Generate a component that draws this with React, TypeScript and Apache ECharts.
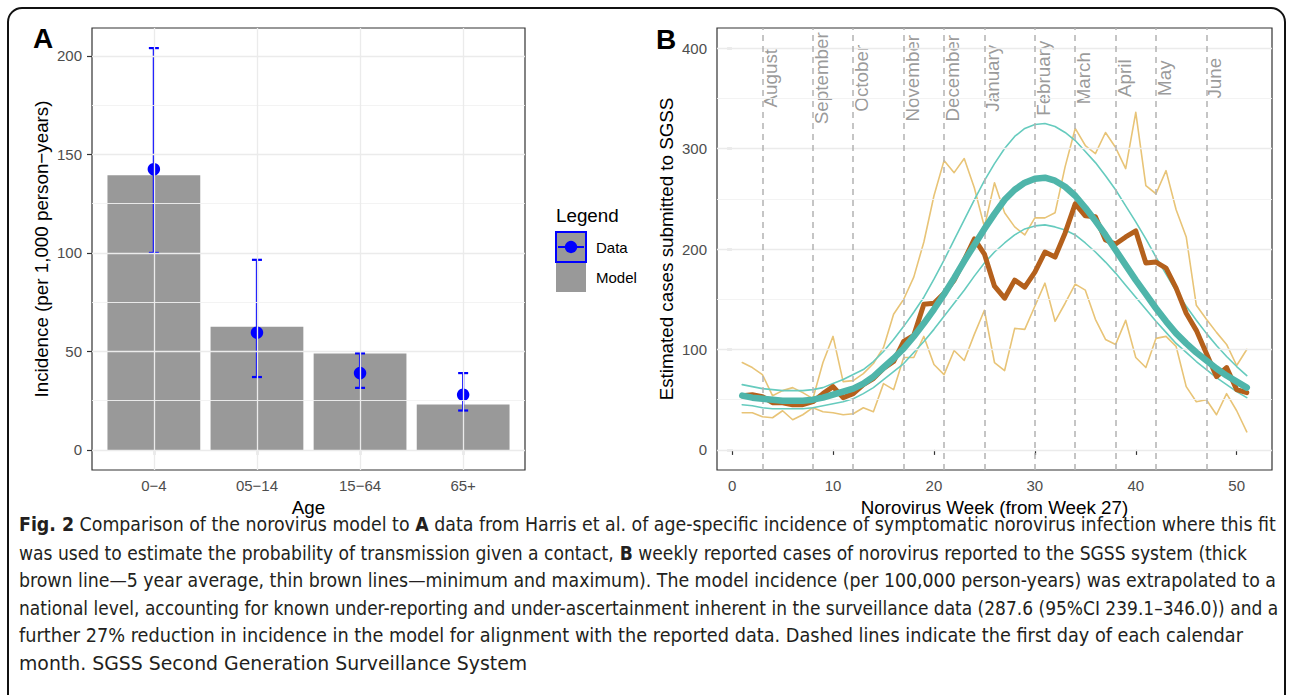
import React, { useEffect, useRef } from 'react';
import * as echarts from 'echarts';

// ---------- Panel A data ----------
const ageGroups = ['0\u22124', '05\u221214', '15\u221264', '65+'];
const modelIncidence = [139.5, 62.5, 49, 23];
const dataIncidence = [142.5, 59.5, 39, 28];
const dataLower = [100, 37, 31.5, 20];
const dataUpper = [204, 96.5, 49, 39];
const yTicksA = [0, 50, 100, 150, 200];
const yMinorA = [25, 75, 125, 175];

// ---------- Panel B data ----------
const weeks = Array.from({ length: 51 }, (_, i) => i + 1);
const avgCases = [54, 55, 53, 47, 47, 45, 45, 48, 56, 63,
  52, 56, 65, 71, 81, 88, 108, 114, 145, 146,
  156, 169, 189, 210, 195, 163, 151, 169, 162, 177,
  197, 192, 216, 245, 233, 232, 209, 205, 212, 218,
  186, 187, 181, 161, 136, 119, 96, 73, 82, 60, 57];
const minCases = [37, 37, 33, 32, 39, 30, 35, 42, 38, 37,
  35, 36, 42, 38, 66, 60, 92, 92, 113, 85,
  75, 99, 89, 115, 139, 87, 79, 121, 120, 143,
  166, 128, 146, 165, 159, 130, 110, 105, 129, 92,
  82, 111, 113, 103, 63, 48, 50, 35, 56, 39, 18];
const maxCases = [87, 82, 75, 54, 59, 62, 57, 51, 87, 113,
  68, 69, 76, 86, 102, 135, 150, 172, 207, 253,
  288, 276, 290, 261, 222, 266, 236, 222, 214, 231,
  231, 236, 282, 320, 303, 295, 316, 301, 280, 336,
  263, 255, 278, 239, 212, 144, 130, 117, 105, 84, 100];
const modelMean = [54, 52, 51, 50, 49, 49, 49, 50, 52, 55,
  58, 61, 66, 73, 82, 91, 101, 113, 126, 140,
  155, 171, 188, 204, 220, 235, 249, 259, 266, 270,
  271, 268, 262, 253, 241, 228, 214, 199, 184, 169,
  155, 141, 128, 116, 106, 97, 89, 81, 74, 68, 62];
const modelUpper = [65, 63, 61, 60, 59, 59, 59, 60, 62, 66,
  70, 75, 80, 88, 98, 110, 123, 137, 152, 170,
  189, 209, 229, 249, 268, 285, 300, 312, 320, 324,
  325, 322, 316, 308, 297, 286, 273, 259, 243, 227,
  210, 192, 175, 158, 143, 129, 116, 104, 93, 83, 74];
const modelLower = [45, 44, 42, 41, 41, 41, 41, 42, 44, 46,
  48, 51, 56, 62, 70, 78, 86, 97, 108, 120,
  133, 146, 159, 173, 186, 197, 206, 214, 220, 223,
  224, 222, 219, 214, 206, 197, 187, 176, 164, 152,
  140, 128, 117, 106, 97, 88, 80, 72, 65, 58, 52];
const months = ['August', 'September', 'October', 'November', 'December', 'January',
  'February', 'March', 'April', 'May', 'June'];
const monthWeeks = [3, 8, 12, 17, 21, 25, 30, 34, 38, 42, 47];
const monthLabelY = 370;
const xTicksB = [0, 10, 20, 30, 40, 50];
const yTicksB = [0, 100, 200, 300, 400];
const yMinorB = [50, 150, 250, 350];

// ---------- Caption ----------
type Seg = { t: string; b?: boolean };
const captionLines: Seg[][] = [
  [{ t: 'Fig. 2', b: true }, { t: ' Comparison of the norovirus model to ' }, { t: 'A', b: true },
    { t: ' data from Harris et al. of age-specific incidence of symptomatic norovirus infection where this fit' }],
  [{ t: 'was used to estimate the probability of transmission given a contact, ' }, { t: 'B', b: true },
    { t: ' weekly reported cases of norovirus reported to the SGSS system (thick' }],
  [{ t: 'brown line\u20145 year average, thin brown lines\u2014minimum and maximum). The model incidence (per 100,000 person-years) was extrapolated to a' }],
  [{ t: 'national level, accounting for known under-reporting and under-ascertainment inherent in the surveillance data (287.6 (95%CI 239.1\u2013346.0)) and a' }],
  [{ t: 'further 27% reduction in incidence in the model for alignment with the reported data. Dashed lines indicate the first day of each calendar' }],
  [{ t: 'month. SGSS Second Generation Surveillance System' }],
];
const captionWidths = [1258, 1229, 1258, 1260, 1225, 508];

const FONT = '"Liberation Sans", Arial, Helvetica, sans-serif';
const CAP_FONT = '"Liberation Sans Narrow", "DejaVu Sans Condensed", "Liberation Sans", sans-serif';
const TICK = '#4D4D4D';
const BROWN = '#B4601C';
const TAN = '#E8C477';
const TEAL = '#4FB5AA';
const TEAL_THIN = '#66CBBE';

export default function App() {
  const ref = useRef<HTMLDivElement>(null);
  useEffect(() => {
    if (!ref.current) return;
    const chart = echarts.init(ref.current, null, { renderer: 'svg' });

    // caption measurement
    const capSize = 19;
    const ctx = document.createElement('canvas').getContext('2d')!;
    const measure = (segs: Seg[]) => segs.reduce((acc, s) => {
      ctx.font = `${s.b ? 'bold ' : ''}${capSize}px ${CAP_FONT}`;
      return acc + ctx.measureText(s.t).width;
    }, 0);
    const capTexts = captionLines.map((segs, i) => ({
      type: 'text', x: 19, y: 525 + i * 27.6, scaleX: captionWidths[i] / measure(segs), silent: true,
      style: {
        text: segs.map(s => `{${s.b ? 'b' : 'n'}|${s.t}}`).join(''),
        verticalAlign: 'middle', align: 'left',
        rich: {
          n: { fontSize: capSize, fontFamily: CAP_FONT, fill: '#231F20' },
          b: { fontSize: capSize, fontFamily: CAP_FONT, fontWeight: 'bold', fill: '#231F20' },
        },
      },
    }));

    const majorStyle = { color: '#EBEBEB', width: 1.3, type: 'solid' };
    const minorStyle = { color: '#F2F2F2', width: 0.9, type: 'solid' };
    const mlBase = {
      silent: true, symbol: 'none', label: { show: false }, animation: false,
      emphasis: { disabled: true }, lineStyle: { type: 'solid' },
    };

    const lineSeries = (data: number[], color: string, width: number, z: number) => ({
      type: 'line', xAxisIndex: 1, yAxisIndex: 1, z, silent: true,
      symbol: 'none', data: weeks.map((w, i) => [w, data[i]]),
      lineStyle: { color, width, join: 'round', cap: 'round' },
      emphasis: { disabled: true },
    });

    const axisTick = (vals: number[]) => ({
      show: true, customValues: vals, length: 5, lineStyle: { color: '#333333', width: 1.2 },
    });

    chart.setOption({
      animation: false,
      backgroundColor: '#ffffff',
      grid: [
        { left: 92, top: 28, width: 433, height: 442, show: true, borderColor: '#333333', borderWidth: 1.2, backgroundColor: 'transparent' },
        { left: 717, top: 28, width: 555, height: 442, show: true, borderColor: '#333333', borderWidth: 1.2, backgroundColor: 'transparent' },
      ],
      xAxis: [
        {
          gridIndex: 0, type: 'value', min: 0.4, max: 4.6,
          axisLine: { show: false }, splitLine: { show: false },
          axisTick: axisTick([1, 2, 3, 4]),
          axisLabel: {
            customValues: [1, 2, 3, 4], formatter: (v: number) => ageGroups[Math.round(v) - 1],
            color: TICK, fontSize: 15, fontFamily: FONT, margin: 8,
          },
        },
        {
          gridIndex: 1, type: 'value', min: -1.5, max: 53.5,
          axisLine: { show: false }, splitLine: { show: false },
          axisTick: axisTick(xTicksB),
          axisLabel: { customValues: xTicksB, color: TICK, fontSize: 15, fontFamily: FONT, margin: 8 },
        },
      ],
      yAxis: [
        {
          gridIndex: 0, type: 'value', min: -10.2, max: 214.2,
          axisLine: { show: false }, splitLine: { show: false },
          axisTick: axisTick(yTicksA),
          axisLabel: { customValues: yTicksA, color: TICK, fontSize: 15, fontFamily: FONT, margin: 10 },
        },
        {
          gridIndex: 1, type: 'value', min: -20, max: 420,
          axisLine: { show: false }, splitLine: { show: false },
          axisTick: axisTick(yTicksB),
          axisLabel: { customValues: yTicksB, color: TICK, fontSize: 15, fontFamily: FONT, margin: 10 },
        },
      ],
      series: [
        // Panel A gridlines
        {
          type: 'line', xAxisIndex: 0, yAxisIndex: 0, data: [], z: 1, silent: true,
          markLine: {
            ...mlBase,
            data: [
              ...yMinorA.map(v => ({ yAxis: v, lineStyle: minorStyle })),
              ...yTicksA.map(v => ({ yAxis: v, lineStyle: majorStyle })),
              ...ageGroups.map((_, i) => ({ xAxis: i + 1, lineStyle: majorStyle })),
            ],
          },
        },
        // Model bars
        {
          type: 'bar', xAxisIndex: 0, yAxisIndex: 0, z: 2, silent: true, barWidth: '90%',
          data: ageGroups.map((_, i) => [i + 1, modelIncidence[i]]),
          itemStyle: { color: '#999999' },
        },
        // Error bars
        {
          type: 'custom', xAxisIndex: 0, yAxisIndex: 0, z: 3, silent: true,
          data: ageGroups.map((_, i) => [i + 1, dataLower[i], dataUpper[i]]),
          encode: { x: 0, y: [1, 2] },
          renderItem: (_p: any, api: any) => {
            const x = api.value(0);
            const lo = api.coord([x, api.value(1)]);
            const hi = api.coord([x, api.value(2)]);
            const hw = 5;
            const style = { stroke: '#0000FF', lineWidth: 2.2, fill: 'none' };
            return {
              type: 'group', children: [
                { type: 'line', shape: { x1: lo[0], y1: lo[1], x2: hi[0], y2: hi[1] }, style },
                { type: 'line', shape: { x1: lo[0] - hw, y1: lo[1], x2: lo[0] + hw, y2: lo[1] }, style },
                { type: 'line', shape: { x1: hi[0] - hw, y1: hi[1], x2: hi[0] + hw, y2: hi[1] }, style },
              ],
            };
          },
        },
        // Data points
        {
          type: 'scatter', xAxisIndex: 0, yAxisIndex: 0, z: 4, silent: true,
          symbolSize: 12.5, itemStyle: { color: '#0000FF', opacity: 1 },
          data: ageGroups.map((_, i) => [i + 1, dataIncidence[i]]),
        },
        // Panel B gridlines
        {
          type: 'line', xAxisIndex: 1, yAxisIndex: 1, data: [], z: 1, silent: true,
          markLine: {
            ...mlBase,
            data: [
              ...yMinorB.map(v => ({ yAxis: v, lineStyle: minorStyle })),
              ...yTicksB.map(v => ({ yAxis: v, lineStyle: majorStyle })),
            ],
          },
        },
        // Month lines + labels
        {
          type: 'scatter', xAxisIndex: 1, yAxisIndex: 1, z: 2, silent: true,
          symbolSize: 1, itemStyle: { color: 'rgba(0,0,0,0)' },
          data: monthWeeks.map((w, i) => ({ value: [w, monthLabelY], name: months[i] })),
          label: {
            show: true, formatter: (p: any) => p.name, rotate: 90, position: [9, 0.5],
            align: 'center', verticalAlign: 'middle',
            color: '#7F7F7F', fontSize: 18.8, fontFamily: FONT,
          },
          markLine: {
            ...mlBase,
            lineStyle: { type: [6, 5], color: '#B3B3B3', width: 1.5 },
            data: monthWeeks.map(w => ({ xAxis: w })),
          },
        },
        lineSeries(minCases, TAN, 1.6, 3),
        lineSeries(maxCases, TAN, 1.6, 3),
        lineSeries(modelUpper, TEAL_THIN, 1.6, 4),
        lineSeries(modelLower, TEAL_THIN, 1.6, 4),
        lineSeries(avgCases, BROWN, 5, 5),
        lineSeries(modelMean, TEAL, 6.5, 6),
      ],
      graphic: [
        {
          type: 'rect', silent: true, z: -10,
          shape: { x: 8, y: 8, width: 1277, height: 900, r: 14 },
          style: { fill: 'none', stroke: '#111111', lineWidth: 2 },
        },
        { type: 'text', x: 33, y: 38.5, silent: true, style: { text: 'A', fontSize: 28, fontWeight: 'bold', fontFamily: FONT, fill: '#000', verticalAlign: 'middle' } },
        { type: 'text', x: 656, y: 39, silent: true, style: { text: 'B', fontSize: 28, fontWeight: 'bold', fontFamily: FONT, fill: '#000', verticalAlign: 'middle' } },
        {
          type: 'text', x: 41.5, y: 249, rotation: Math.PI / 2, silent: true,
          style: { text: 'Incidence (per 1,000 person\u2212years)', fontSize: 18.8, fontFamily: FONT, fill: '#000', align: 'center', verticalAlign: 'middle' },
        },
        { type: 'text', x: 308.5, y: 507, silent: true, style: { text: 'Age', fontSize: 18.8, fontFamily: FONT, fill: '#000', align: 'center', verticalAlign: 'middle' } },
        {
          type: 'text', x: 666, y: 249, rotation: Math.PI / 2, silent: true,
          style: { text: 'Estimated cases submitted to SGSS', fontSize: 18.8, fontFamily: FONT, fill: '#000', align: 'center', verticalAlign: 'middle' },
        },
        { type: 'text', x: 994.5, y: 507, silent: true, style: { text: 'Norovirus Week (from Week 27)', fontSize: 18.8, fontFamily: FONT, fill: '#000', align: 'center', verticalAlign: 'middle' } },
        // Legend
        { type: 'text', x: 556, y: 215, silent: true, style: { text: 'Legend', fontSize: 18.8, fontFamily: FONT, fill: '#000', verticalAlign: 'middle' } },
        { type: 'rect', silent: true, shape: { x: 556, y: 262, width: 30, height: 30 }, style: { fill: '#999999' } },
        { type: 'rect', silent: true, shape: { x: 556, y: 232, width: 30, height: 30 }, style: { fill: '#999999', stroke: '#0000FF', lineWidth: 2 } },
        { type: 'line', silent: true, shape: { x1: 558, y1: 247, x2: 584, y2: 247 }, style: { stroke: '#0000FF', lineWidth: 2 } },
        { type: 'circle', silent: true, shape: { cx: 571, cy: 247, r: 6.2 }, style: { fill: '#0000FF' } },
        { type: 'text', x: 596, y: 247, silent: true, style: { text: 'Data', fontSize: 15, fontFamily: FONT, fill: '#000', verticalAlign: 'middle' } },
        { type: 'text', x: 596, y: 277, silent: true, style: { text: 'Model', fontSize: 15, fontFamily: FONT, fill: '#000', verticalAlign: 'middle' } },
        ...capTexts,
      ],
    });
    return () => chart.dispose();
  }, []);
  return <div ref={ref} style={{ position: 'fixed', left: 0, top: 0, width: 1292, height: 695 }} />;
}
